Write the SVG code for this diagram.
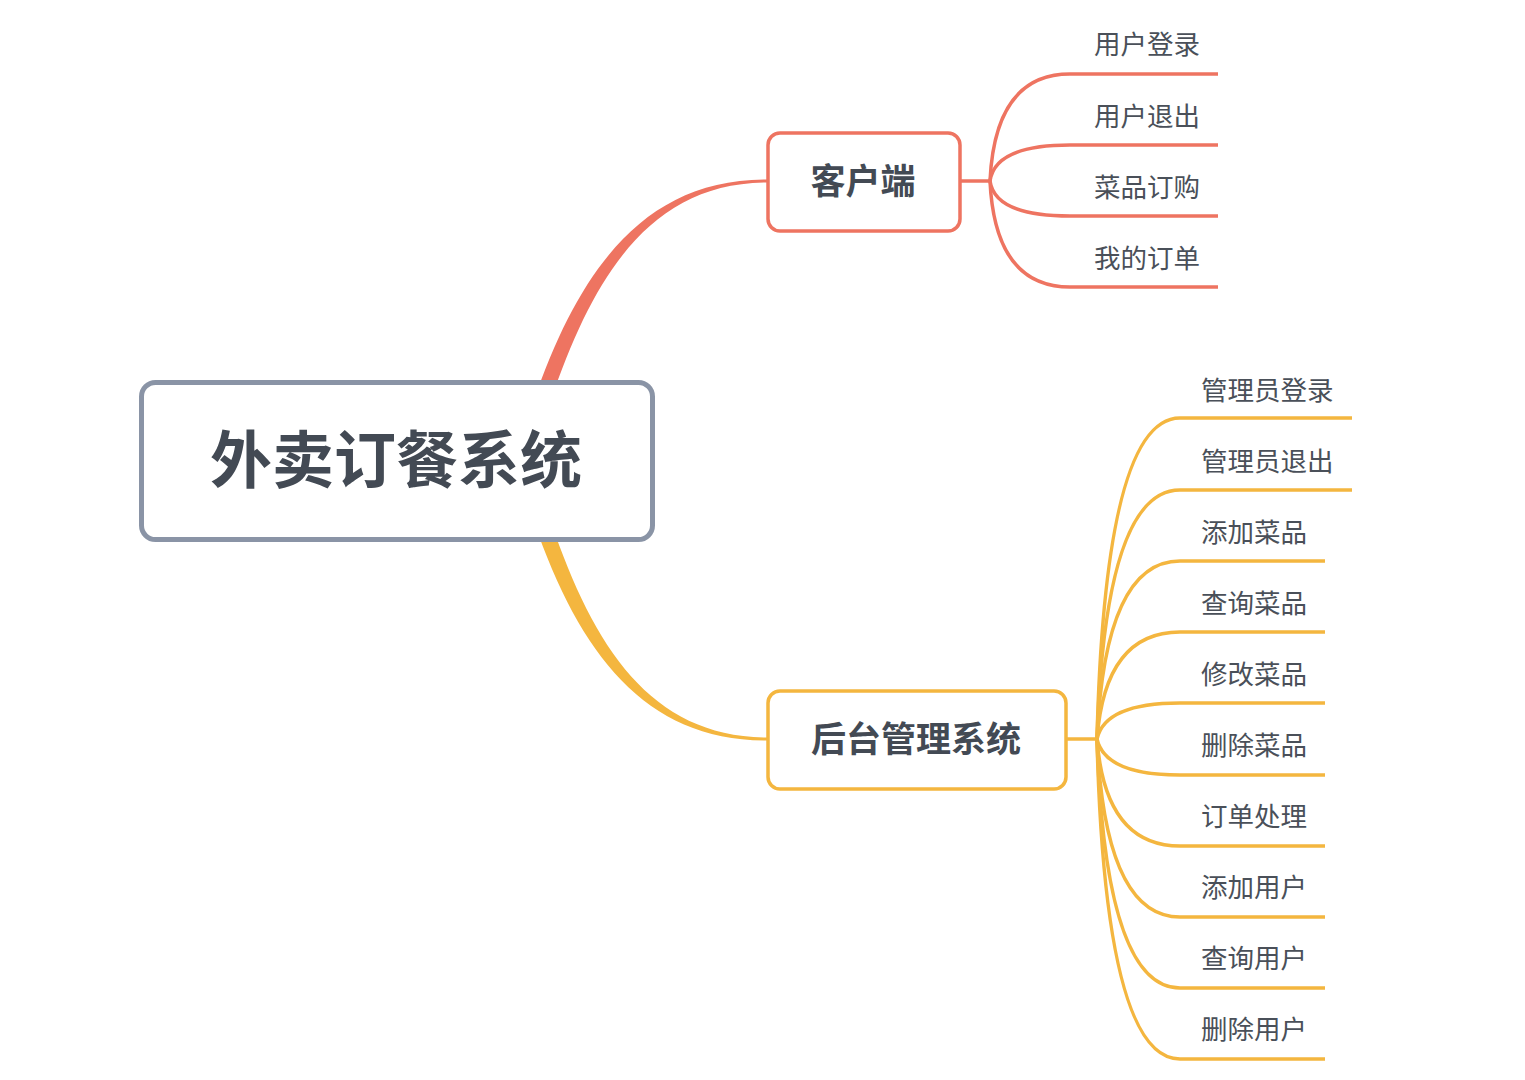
<svg xmlns="http://www.w3.org/2000/svg" width="1525" height="1080" viewBox="0 0 1525 1080">
<style>
.node text{font-family:"Noto Sans CJK SC","Liberation Sans",sans-serif;fill:#434a54;font-weight:bold;text-anchor:middle;dominant-baseline:central}
.leaf text{font-family:"Noto Sans CJK SC","Liberation Sans",sans-serif;fill:#4a5059;font-size:26.5px;dominant-baseline:central}
.red{stroke:#ee7461;fill:none;stroke-width:3.5}
.yel{stroke:#f4b63f;fill:none;stroke-width:3.5}
</style>
<rect width="1525" height="1080" fill="#ffffff"/>
<g id="connectors">
<path d="M534,400 C580,267 646,179 767,179.5 L767,182.5 C652,183 594,273 551,400 Z" fill="#ee7461"/>
<path d="M534,522 C580,655 646,741 767,740.5 L767,737.5 C652,737 594,649 551,522 Z" fill="#f4b63f"/>
<path class="red" d="M960,181 H990"/>
<path class="red" d="M990,181 Q995,74 1070,74 H1218"/>
<path class="red" d="M990,181 Q995,145 1070,145 H1218"/>
<path class="red" d="M990,181 Q995,216 1070,216 H1218"/>
<path class="red" d="M990,181 Q995,287 1070,287 H1218"/>
<path class="yel" d="M1067,739 H1097"/>
<path class="yel" d="M1097,739 Q1105,418 1180,418 H1352"/>
<path class="yel" d="M1097,739 Q1105,490 1180,490 H1352"/>
<path class="yel" d="M1097,739 Q1105,561 1180,561 H1325"/>
<path class="yel" d="M1097,739 Q1105,632 1180,632 H1325"/>
<path class="yel" d="M1097,739 Q1105,703 1180,703 H1325"/>
<path class="yel" d="M1097,739 Q1105,775 1180,775 H1325"/>
<path class="yel" d="M1097,739 Q1105,846 1180,846 H1325"/>
<path class="yel" d="M1097,739 Q1105,917 1180,917 H1325"/>
<path class="yel" d="M1097,739 Q1105,988 1180,988 H1325"/>
<path class="yel" d="M1097,739 Q1105,1059 1180,1059 H1325"/>
</g>
<g id="root" class="node">
<rect x="141.5" y="382.5" width="511" height="157" rx="14" fill="#ffffff" stroke="#8a94a6" stroke-width="5"/>
<text x="396" y="456" font-size="62">外卖订餐系统</text>
</g>
<g id="client" class="node">
<rect x="768" y="133" width="192" height="98" rx="12" fill="#ffffff" stroke="#ee7461" stroke-width="3.5"/>
<text x="863" y="178" font-size="35">客户端</text>
</g>
<g id="admin" class="node">
<rect x="768" y="691" width="298" height="98" rx="12" fill="#ffffff" stroke="#f4b63f" stroke-width="3.5"/>
<text x="916" y="736" font-size="35">后台管理系统</text>
</g>
<g id="c1" class="leaf"><text x="1094" y="42">用户登录</text></g>
<g id="c2" class="leaf"><text x="1094" y="114">用户退出</text></g>
<g id="c3" class="leaf"><text x="1094" y="185">菜品订购</text></g>
<g id="c4" class="leaf"><text x="1094" y="256">我的订单</text></g>
<g id="a1" class="leaf"><text x="1201" y="388">管理员登录</text></g>
<g id="a2" class="leaf"><text x="1201" y="459">管理员退出</text></g>
<g id="a3" class="leaf"><text x="1201" y="530">添加菜品</text></g>
<g id="a4" class="leaf"><text x="1201" y="601">查询菜品</text></g>
<g id="a5" class="leaf"><text x="1201" y="672">修改菜品</text></g>
<g id="a6" class="leaf"><text x="1201" y="743">删除菜品</text></g>
<g id="a7" class="leaf"><text x="1201" y="814">订单处理</text></g>
<g id="a8" class="leaf"><text x="1201" y="885">添加用户</text></g>
<g id="a9" class="leaf"><text x="1201" y="956">查询用户</text></g>
<g id="a10" class="leaf"><text x="1201" y="1027">删除用户</text></g>
</svg>
